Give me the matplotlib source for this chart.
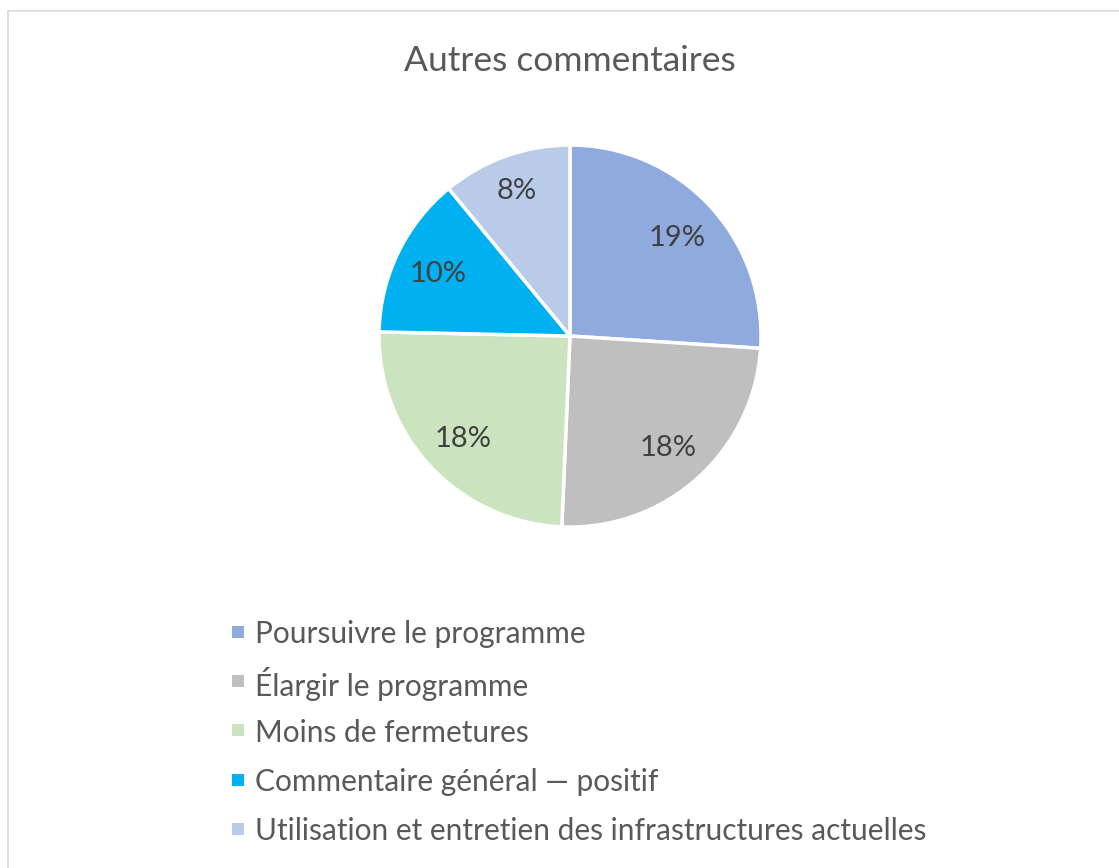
import matplotlib.pyplot as plt
from matplotlib.patches import Rectangle

labels = ['Poursuivre le programme', 'Élargir le programme', 'Moins de fermetures',
          'Commentaire général — positif', 'Utilisation et entretien des infrastructures actuelles']
values = [19, 18, 18, 10, 8]
colors = ['#8FAADC', '#BFBFBF', '#CBE3BF', '#00B0F0', '#B9CBE8']

plt.rcParams['font.family'] = ['Lato', 'DejaVu Sans']

W, H = 1119, 868
fig = plt.figure(figsize=(W / 100, H / 100), dpi=100)

# light frame like the office chart area
fig.patches.append(Rectangle((7.5 / W, -0.01), 1.02, (H - 11.5) / H + 0.01, transform=fig.transFigure,
                             fill=False, edgecolor='#D9D9D9', linewidth=1.2))

cx, cy, r = 570, 336, 191
ax = fig.add_axes([(cx - r) / W, (H - cy - r) / H, 2 * r / W, 2 * r / H])
total = sum(values)
wedges, texts, autotexts = ax.pie(values, colors=colors, startangle=90, counterclock=False,
                                  autopct=lambda p: '%d%%' % round(p * total / 100),
                                  pctdistance=0.77,
                                  wedgeprops=dict(edgecolor='white', linewidth=2.5),
                                  textprops=dict(fontsize=21, color='#404040'))
ax.set_xlim(-1, 1)
ax.set_ylim(-1, 1)
ax.set_aspect('equal')
for t in autotexts:
    t.set_va('center_baseline')
# small slice label sits a bit further out
px, py = autotexts[4].get_position()
autotexts[4].set_position((px * 0.82 / 0.77, py * 0.82 / 0.77))

fig.text(cx / W, 1 - 58 / H, 'Autres commentaires', ha='center', va='center_baseline',
         fontsize=25.5, color='#595959')

# legend, one row every 49 px
for i, (lab, c) in enumerate(zip(labels, colors)):
    y = 1 - (632 + 49.2 * i) / H
    fig.patches.append(Rectangle((232 / W, y - 6 / H), 12 / W, 12 / H, transform=fig.transFigure,
                                 facecolor=c, edgecolor='none'))
    fig.text(255 / W, y, lab, ha='left', va='center_baseline', fontsize=21.5, color='#595959')

fig.savefig('out.png', dpi=100)
